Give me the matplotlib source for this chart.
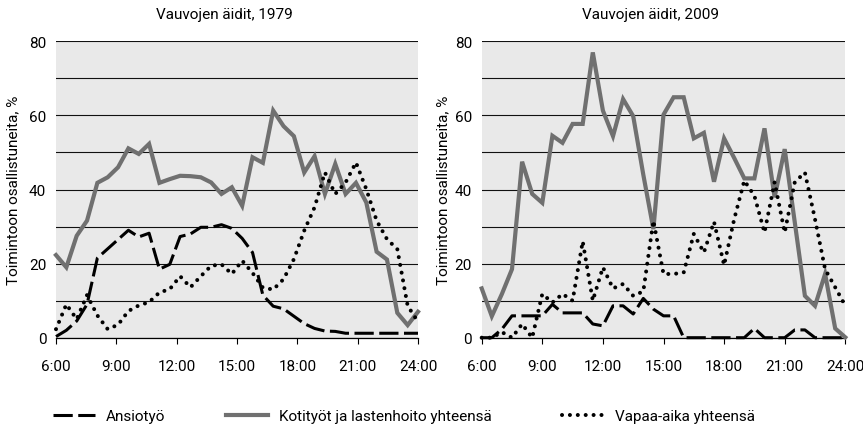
import numpy as np
import matplotlib
matplotlib.use('Agg')
import matplotlib.pyplot as plt

plt.rcParams['font.family'] = ['Roboto', 'DejaVu Sans']

# ---------------------------------------------------------------
# Data: share of mothers of babies taking part in activity (%)
# ---------------------------------------------------------------
tick_hours = [6, 9, 12, 15, 18, 21, 24]
tick_labels = ['6:00', '9:00', '12:00', '15:00', '18:00', '21:00', '24:00']

# 1979
ansiotyo_1979 = [0.3, 2.0, 4.5, 9.0, 21.5, 24.0, 26.5, 29.0, 27.2, 28.2, 18.5, 19.8,
                 27.3, 28.0, 29.8, 29.8, 30.5, 29.5, 26.8, 23.0, 11.5, 8.5, 7.8, 5.8,
                 3.8, 2.5, 1.8, 1.7, 1.2, 1.2, 1.2, 1.2, 1.2, 1.2, 1.2, 1.2]
kotityot_1979 = [22.3, 19.0, 27.5, 31.6, 41.8, 43.3, 46.0, 51.1, 49.6, 52.3, 41.8, 42.8,
                 43.7, 43.6, 43.3, 41.9, 38.8, 40.6, 35.6, 48.7, 47.2, 61.3, 57.1, 54.4,
                 44.6, 49.0, 38.8, 46.9, 38.8, 41.8, 36.5, 23.2, 21.1, 6.7, 3.4, 7.0]
vapaa_1979 = [2.3, 9.0, 5.0, 11.5, 6.0, 2.3, 3.5, 7.2, 8.7, 9.6, 12.2, 13.1,
              16.6, 13.6, 16.6, 19.4, 19.8, 17.2, 20.8, 17.5, 13.5, 13.0, 15.8, 21.2,
              28.9, 35.2, 44.6, 38.8, 41.9, 47.3, 40.1, 31.6, 26.6, 23.9, 8.6, 4.3]

# 2009
ansiotyo_2009 = [0, 0, 2.3, 5.9, 5.9, 5.9, 5.9, 9.0, 6.7, 6.7, 6.7, 3.7, 3.2,
                 8.6, 8.6, 6.4, 10.6, 7.7, 5.9, 5.9, 0, 0, 0, 0, 0, 0, 0,
                 2.5, 0, 0, 0, 2.1, 2.1, 0, 0, 0, 0]
kotityot_2009 = [13.3, 5.8, 11.8, 18.5, 47.5, 38.8, 36.4, 54.5, 52.6, 57.7, 57.7, 77.0, 61.3,
                 54.4, 64.4, 59.8, 44.0, 29.3, 60.2, 64.9, 64.9, 53.8, 55.3, 42.1, 53.8,
                 48.5, 43.0, 43.0, 56.5, 37.9, 50.9, 31.1, 11.3, 8.6, 17.2, 2.5, 0.1]
vapaa_2009 = [0, 0, 1.5, 0, 3.7, 0, 11.8, 9.5, 11.8, 10.0, 26.0, 10.0, 19.0,
              13.3, 14.5, 11.3, 12.5, 31.6, 17.2, 17.2, 17.6, 28.0, 23.0, 31.3, 19.6,
              32.0, 42.4, 38.3, 28.4, 42.0, 28.4, 42.0, 44.6, 32.0, 18.5, 13.6, 8.6]

panels = [
    ('Vauvojen äidit, 1979', ansiotyo_1979, kotityot_1979, vapaa_1979),
    ('Vauvojen äidit, 2009', ansiotyo_2009, kotityot_2009, vapaa_2009),
]

# ---------------------------------------------------------------
# Figure
# ---------------------------------------------------------------
W, H = 863, 427
FS = 11
fig = plt.figure(figsize=(W / 100, H / 100), dpi=100)

ax_left_px = [56, 481.7]
ax_width_px = [362, 363.6]
title_x_px = [224, 651]
ylabel_x_px = [13, 443]

for k, (title, ansio, koti, vapaa) in enumerate(panels):
    ax = fig.add_axes([ax_left_px[k] / W, (H - 338.7) / H, ax_width_px[k] / W, 296.4 / H])
    ax.set_facecolor('#e9e9e9')

    hours = np.linspace(6, 24, len(koti))
    l1, = ax.plot(hours, ansio, color='black', lw=2.2, linestyle=(0, (6.3, 1.8)),
                  clip_on=False, zorder=3)
    l2, = ax.plot(hours, koti, color='#707070', lw=3.0, solid_joinstyle='miter',
                  clip_on=False, zorder=4)
    l3, = ax.plot(hours, vapaa, color='black', lw=2.9, linestyle=(0, (0.01, 1.95)),
                  dash_capstyle='round', clip_on=False, zorder=5)

    ax.set_xlim(6, 24)
    ax.set_ylim(0, 80)
    ax.set_xticks(tick_hours)
    ax.set_xticklabels(tick_labels)
    ax.set_yticks([0, 20, 40, 60, 80])
    ax.set_yticks([10, 30, 50, 70], minor=True)
    ax.grid(axis='y', which='both', color='#111111', lw=0.8)
    ax.set_axisbelow(True)
    for side in ['left', 'right', 'top']:
        ax.spines[side].set_visible(False)
    ax.spines['bottom'].set_color('black')
    ax.spines['bottom'].set_linewidth(0.9)
    ax.tick_params(axis='x', length=4, width=0.8, pad=11, labelsize=FS)
    ax.tick_params(axis='y', which='both', length=0, pad=7, labelsize=FS)

    fig.text(title_x_px[k] / W, (H - 19) / H, title, ha='center', va='baseline', fontsize=FS)
    fig.text(ylabel_x_px[k] / W, (H - 190.5) / H, 'Toimintoon osallistuneita, %',
             rotation=90, ha='center', va='center', fontsize=FS)

    if k == 0:
        handles = [l1, l2, l3]

# legend: three separately placed entries
legend_labels = ['Ansiotyö', 'Kotityöt ja lastenhoito yhteensä', 'Vapaa-aika yhteensä']
legend_x_px = [52.7, 226, 562]
for h, lab, xp in zip(handles, legend_labels, legend_x_px):
    fig.legend([h], [lab], loc='center left', bbox_to_anchor=(xp / W, (H - 417) / H),
               frameon=False, borderpad=0, borderaxespad=0, handlelength=2.75,
               handletextpad=0.7, fontsize=FS)

fig.savefig('out.png', dpi=100)
